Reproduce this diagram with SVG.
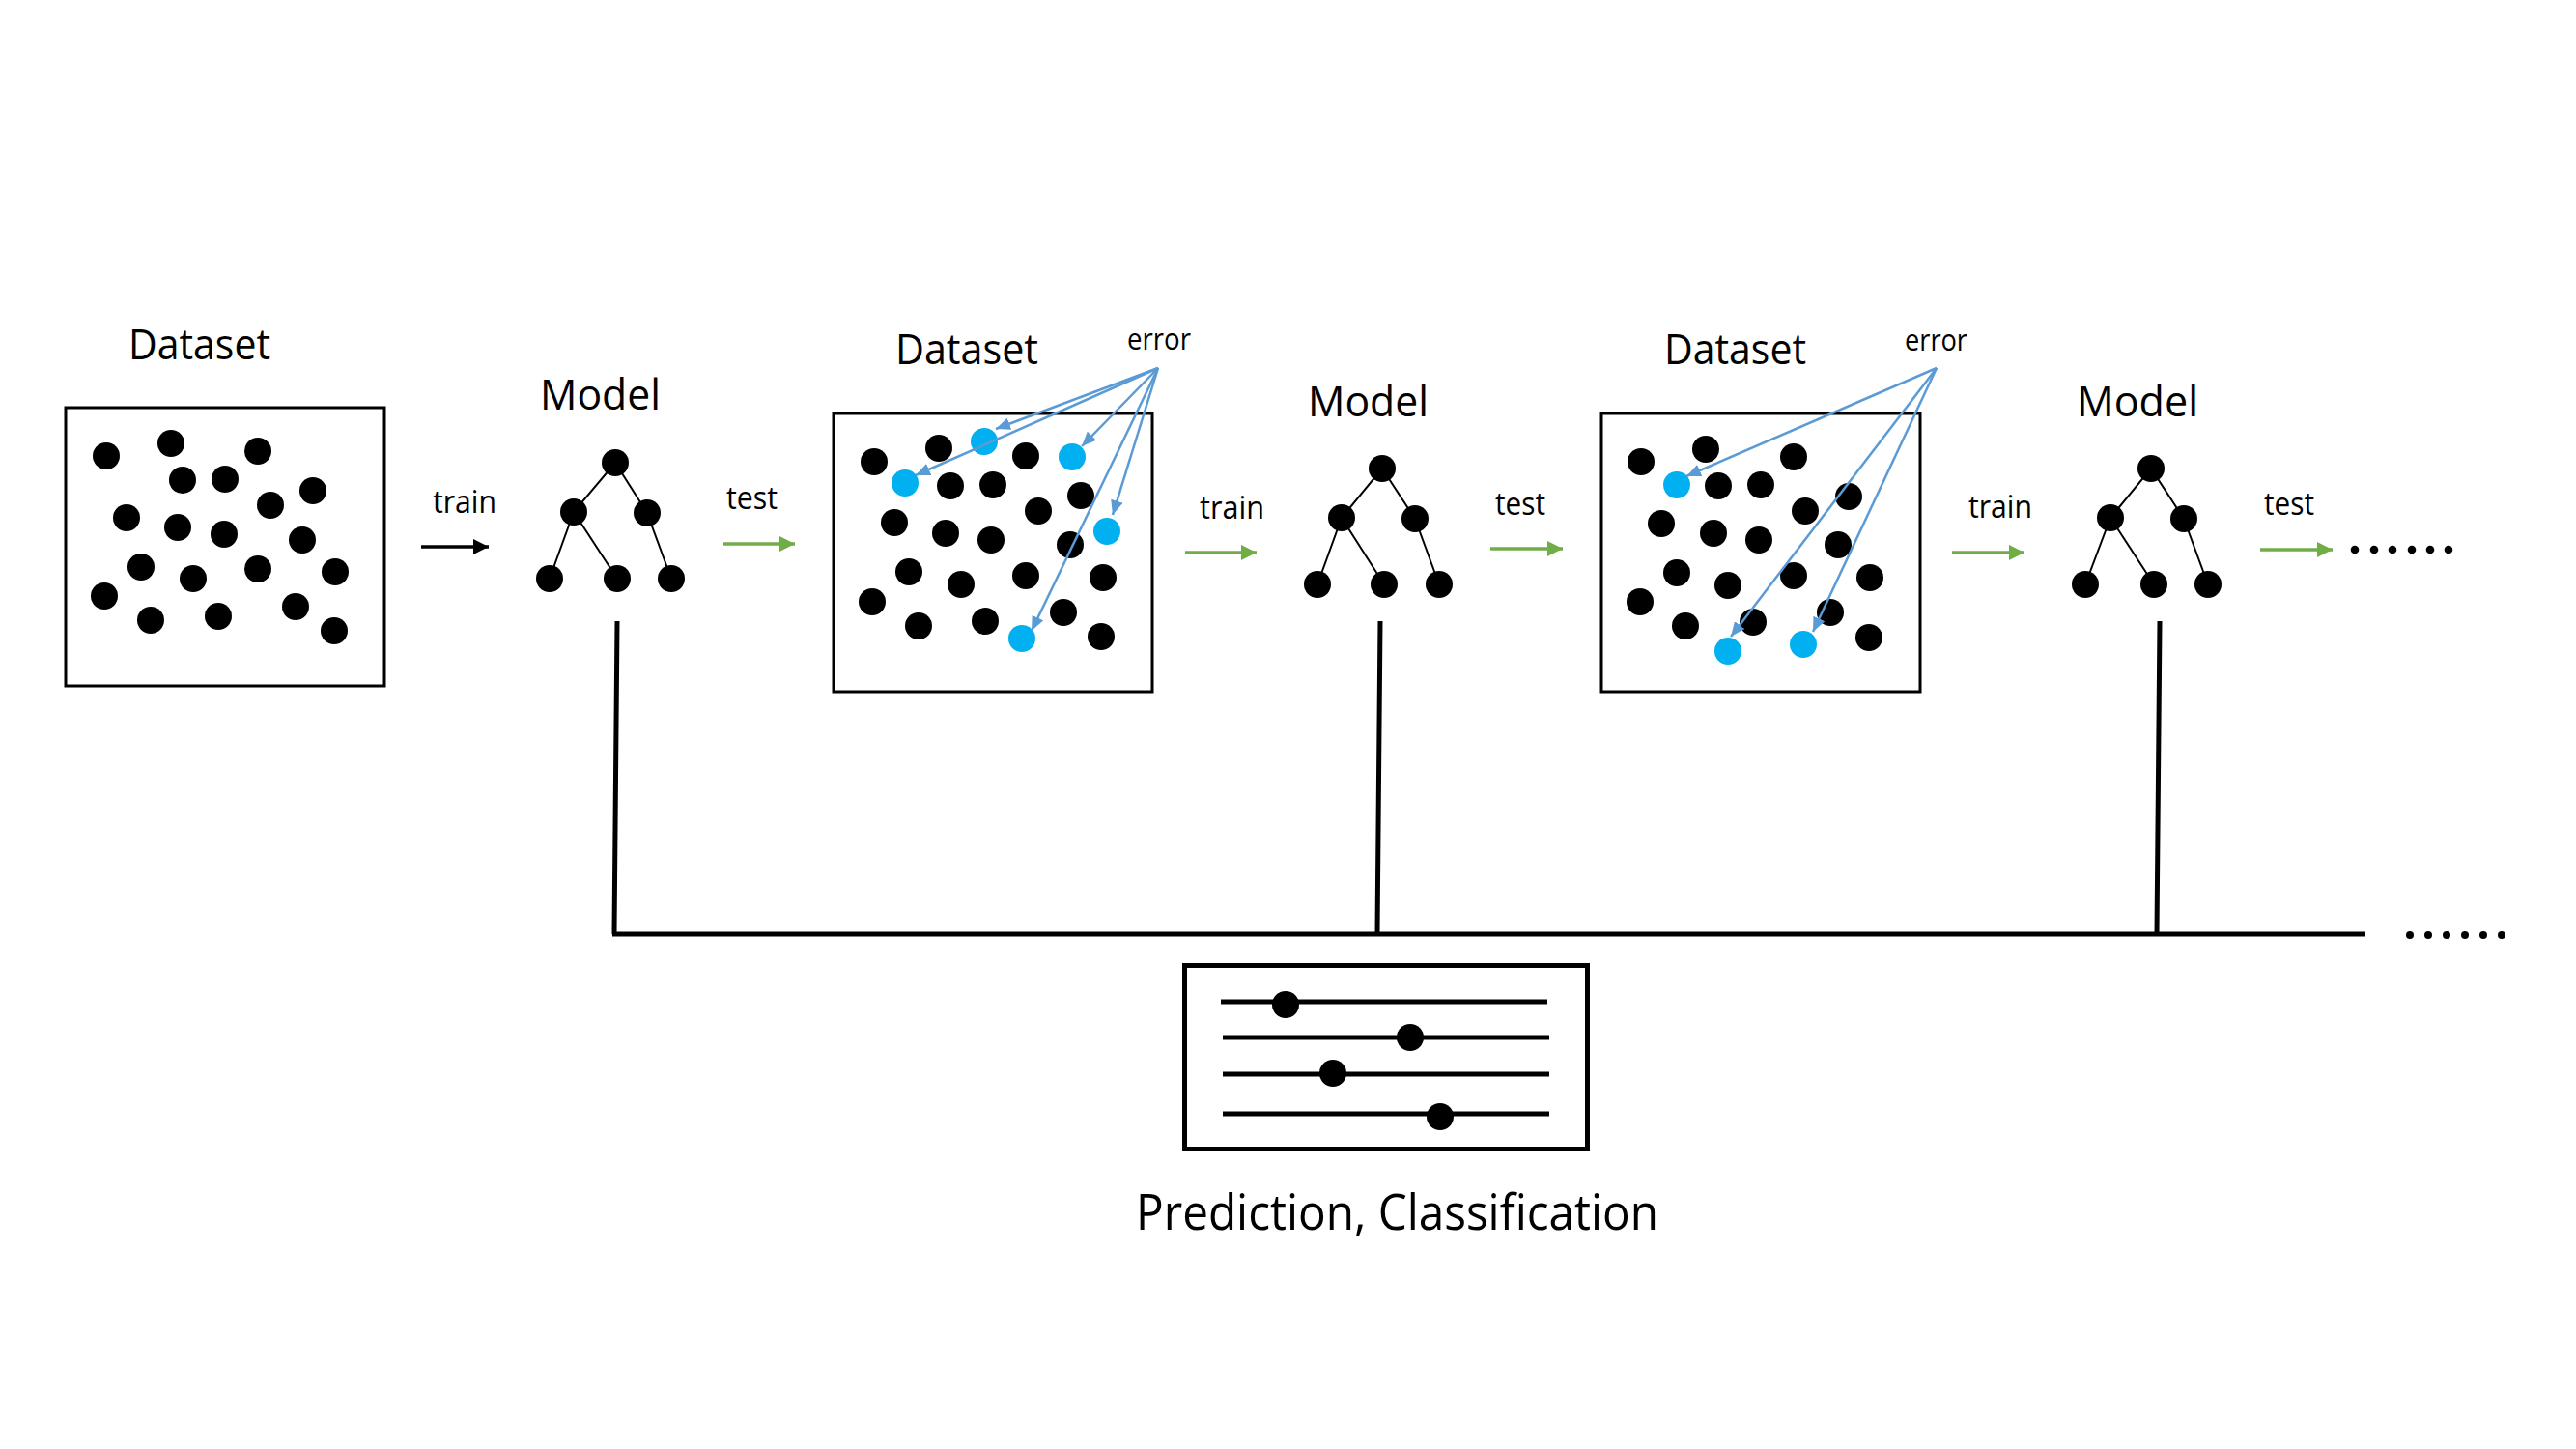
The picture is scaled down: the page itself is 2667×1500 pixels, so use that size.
<svg xmlns="http://www.w3.org/2000/svg" width="2667" height="1500" viewBox="0 0 2667 1500">
<style>
text{font-family:"Open Sans","Noto Sans","Liberation Sans",sans-serif;fill:#000}
.t44{font-size:44px}
.t33{font-size:33px}
.t31{font-size:31px}
.t52{font-size:52px}
.box{fill:none;stroke:#000;stroke-width:3}
.d{fill:#000}
.b{fill:#00B0F0}
.edge{stroke:#000;stroke-width:2;fill:none}
.err{stroke:#5B9BD5;stroke-width:2.5;fill:none;marker-end:url(#mb)}
.grn{stroke:#70AD47;stroke-width:3.5;fill:none;marker-end:url(#mg)}
.blk{stroke:#000;stroke-width:3.5;fill:none;marker-end:url(#mk)}
.bus{stroke:#000;stroke-width:5;fill:none}
</style>
<defs>
<marker id="mk" markerUnits="userSpaceOnUse" markerWidth="16" markerHeight="16" refX="16" refY="8" orient="auto"><path d="M0,0 L16,8 L0,16 z" fill="#000"/></marker>
<marker id="mg" markerUnits="userSpaceOnUse" markerWidth="16" markerHeight="16" refX="16" refY="8" orient="auto"><path d="M0,0 L16,8 L0,16 z" fill="#70AD47"/></marker>
<marker id="mb" markerUnits="userSpaceOnUse" markerWidth="15" markerHeight="13" refX="15" refY="6.5" orient="auto"><path d="M0,0 L15,6.5 L0,13 z" fill="#5B9BD5"/></marker>
</defs>
<rect width="2667" height="1500" fill="#fff"/>

<g id="dataset1">
<text class="t44" x="133" y="372" textLength="147" lengthAdjust="spacingAndGlyphs">Dataset</text>
<rect class="box" x="68" y="422" width="330" height="288"/>
<g class="d">
<circle cx="110" cy="472" r="14"/><circle cx="177" cy="459" r="14"/><circle cx="267" cy="467" r="14"/>
<circle cx="189" cy="497" r="14"/><circle cx="233" cy="496" r="14"/><circle cx="324" cy="508" r="14"/>
<circle cx="280" cy="523" r="14"/><circle cx="131" cy="536" r="14"/><circle cx="184" cy="546" r="14"/>
<circle cx="232" cy="553" r="14"/><circle cx="313" cy="559" r="14"/><circle cx="146" cy="587" r="14"/>
<circle cx="200" cy="599" r="14"/><circle cx="267" cy="589" r="14"/><circle cx="347" cy="592" r="14"/>
<circle cx="108" cy="617" r="14"/><circle cx="156" cy="642" r="14"/><circle cx="226" cy="638" r="14"/>
<circle cx="306" cy="628" r="14"/><circle cx="346" cy="653" r="14"/>
</g>
</g>

<g id="model1">
<text class="t44" x="559" y="424" textLength="125" lengthAdjust="spacingAndGlyphs">Model</text>
<path class="edge" d="M637,479 L594,530 M637,479 L670,531 M594,530 L569,599 M594,530 L639,599 M670,531 L695,599"/>
<g class="d">
<circle cx="637" cy="479" r="14"/><circle cx="594" cy="530" r="14"/><circle cx="670" cy="531" r="14"/>
<circle cx="569" cy="599" r="14"/><circle cx="639" cy="599" r="14"/><circle cx="695" cy="599" r="14"/>
</g>
</g>

<g id="dataset2">
<text class="t44" x="927" y="377" textLength="148" lengthAdjust="spacingAndGlyphs">Dataset</text>
<text class="t31" x="1167" y="362" textLength="66" lengthAdjust="spacingAndGlyphs">error</text>
<rect class="box" x="863" y="428" width="330" height="288"/>
<g class="d">
<circle cx="905" cy="478" r="14"/><circle cx="972" cy="464" r="14"/><circle cx="1062" cy="472" r="14"/>
<circle cx="984" cy="503" r="14"/><circle cx="1028" cy="502" r="14"/><circle cx="1119" cy="513" r="14"/>
<circle cx="1075" cy="529" r="14"/><circle cx="926" cy="541" r="14"/><circle cx="979" cy="552" r="14"/>
<circle cx="1026" cy="559" r="14"/><circle cx="1108" cy="564" r="14"/><circle cx="941" cy="592" r="14"/>
<circle cx="995" cy="605" r="14"/><circle cx="1062" cy="596" r="14"/><circle cx="1142" cy="598" r="14"/>
<circle cx="903" cy="623" r="14"/><circle cx="951" cy="648" r="14"/><circle cx="1020" cy="643" r="14"/>
<circle cx="1101" cy="634" r="14"/><circle cx="1140" cy="659" r="14"/>
</g>
<g class="b">
<circle cx="1019" cy="457" r="14"/><circle cx="937" cy="500" r="14"/><circle cx="1110" cy="473" r="14"/>
<circle cx="1146" cy="550" r="14"/><circle cx="1058" cy="661" r="14"/>
</g>
</g>

<g id="model2">
<text class="t44" x="1354" y="431" textLength="125" lengthAdjust="spacingAndGlyphs">Model</text>
<path class="edge" d="M1431,485 L1389,536 M1431,485 L1465,537 M1389,536 L1364,605 M1389,536 L1433,605 M1465,537 L1490,605"/>
<g class="d">
<circle cx="1431" cy="485" r="14"/><circle cx="1389" cy="536" r="14"/><circle cx="1465" cy="537" r="14"/>
<circle cx="1364" cy="605" r="14"/><circle cx="1433" cy="605" r="14"/><circle cx="1490" cy="605" r="14"/>
</g>
</g>

<g id="dataset3">
<text class="t44" x="1723" y="377" textLength="147" lengthAdjust="spacingAndGlyphs">Dataset</text>
<text class="t31" x="1972" y="363" textLength="65" lengthAdjust="spacingAndGlyphs">error</text>
<rect class="box" x="1658" y="428" width="330" height="288"/>
<g class="d">
<circle cx="1699" cy="478" r="14"/><circle cx="1766" cy="465" r="14"/><circle cx="1857" cy="473" r="14"/>
<circle cx="1779" cy="503" r="14"/><circle cx="1823" cy="502" r="14"/><circle cx="1914" cy="514" r="14"/>
<circle cx="1869" cy="529" r="14"/><circle cx="1720" cy="542" r="14"/><circle cx="1774" cy="552" r="14"/>
<circle cx="1821" cy="559" r="14"/><circle cx="1903" cy="564" r="14"/><circle cx="1736" cy="593" r="14"/>
<circle cx="1789" cy="606" r="14"/><circle cx="1857" cy="596" r="14"/><circle cx="1936" cy="598" r="14"/>
<circle cx="1698" cy="623" r="14"/><circle cx="1745" cy="648" r="14"/><circle cx="1815" cy="644" r="14"/>
<circle cx="1895" cy="634" r="14"/><circle cx="1935" cy="660" r="14"/>
</g>
<g class="b">
<circle cx="1736" cy="502" r="14"/><circle cx="1789" cy="674" r="14"/><circle cx="1867" cy="667" r="14"/>
</g>
</g>

<g id="model3">
<text class="t44" x="2150" y="431" textLength="126" lengthAdjust="spacingAndGlyphs">Model</text>
<path class="edge" d="M2227,485 L2185,536 M2227,485 L2261,537 M2185,536 L2159,605 M2185,536 L2230,605 M2261,537 L2286,605"/>
<g class="d">
<circle cx="2227" cy="485" r="14"/><circle cx="2185" cy="536" r="14"/><circle cx="2261" cy="537" r="14"/>
<circle cx="2159" cy="605" r="14"/><circle cx="2230" cy="605" r="14"/><circle cx="2286" cy="605" r="14"/>
</g>
</g>

<g id="prediction">
<rect x="1226.5" y="999.5" width="417" height="190" fill="none" stroke="#000" stroke-width="5"/>
<path class="bus" d="M1264,1037 L1602,1037 M1266,1074 L1604,1074 M1266,1112 L1604,1112 M1266,1153 L1604,1153"/>
<g class="d">
<circle cx="1331" cy="1040" r="14"/><circle cx="1460" cy="1074" r="14"/><circle cx="1380" cy="1111" r="14"/><circle cx="1491" cy="1156" r="14"/>
</g>
<text class="t52" x="1176" y="1273" textLength="541" lengthAdjust="spacingAndGlyphs">Prediction, Classification</text>
</g>

<g id="labels">
<text class="t33" x="448" y="531" textLength="66" lengthAdjust="spacingAndGlyphs">train</text>
<text class="t33" x="752" y="527" textLength="53" lengthAdjust="spacingAndGlyphs">test</text>
<text class="t33" x="1242" y="537" textLength="67" lengthAdjust="spacingAndGlyphs">train</text>
<text class="t33" x="1548" y="533" textLength="52" lengthAdjust="spacingAndGlyphs">test</text>
<text class="t33" x="2038" y="536" textLength="66" lengthAdjust="spacingAndGlyphs">train</text>
<text class="t33" x="2344" y="533" textLength="52" lengthAdjust="spacingAndGlyphs">test</text>
</g>

<g id="connectors">
<line class="blk" x1="436" y1="566" x2="506" y2="566"/>
<line class="grn" x1="749" y1="563" x2="823" y2="563"/>
<line class="grn" x1="1227" y1="572" x2="1301" y2="572"/>
<line class="grn" x1="1543" y1="568" x2="1618" y2="568"/>
<line class="grn" x1="2021" y1="572" x2="2096" y2="572"/>
<line class="grn" x1="2340" y1="569" x2="2415" y2="569"/>
<line class="err" x1="1199" y1="381" x2="1031" y2="444"/>
<line class="err" x1="1199" y1="381" x2="948" y2="492"/>
<line class="err" x1="1199" y1="381" x2="1120" y2="462"/>
<line class="err" x1="1199" y1="381" x2="1152" y2="533"/>
<line class="err" x1="1199" y1="381" x2="1068" y2="653"/>
<line class="err" x1="2005" y1="381" x2="1746" y2="493"/>
<line class="err" x1="2005" y1="381" x2="1792" y2="659"/>
<line class="err" x1="2005" y1="381" x2="1877" y2="654"/>
<path class="bus" d="M639,643 L636,967 M1429,643 L1426,967 M2236,643 L2233,967 M634,967 L2449,967"/>
</g>

<g id="ellipsis">
<circle cx="2438" cy="569" r="4.3"/><circle cx="2458" cy="569" r="4.3"/><circle cx="2477" cy="569" r="4.3"/>
<circle cx="2497" cy="569" r="4.3"/><circle cx="2516" cy="569" r="4.3"/><circle cx="2535" cy="569" r="4.3"/>
<circle cx="2495" cy="968" r="4"/><circle cx="2514" cy="968" r="4"/><circle cx="2533" cy="968" r="4"/>
<circle cx="2552" cy="968" r="4"/><circle cx="2571" cy="968" r="4"/><circle cx="2590" cy="968" r="4"/>
</g>
</svg>
